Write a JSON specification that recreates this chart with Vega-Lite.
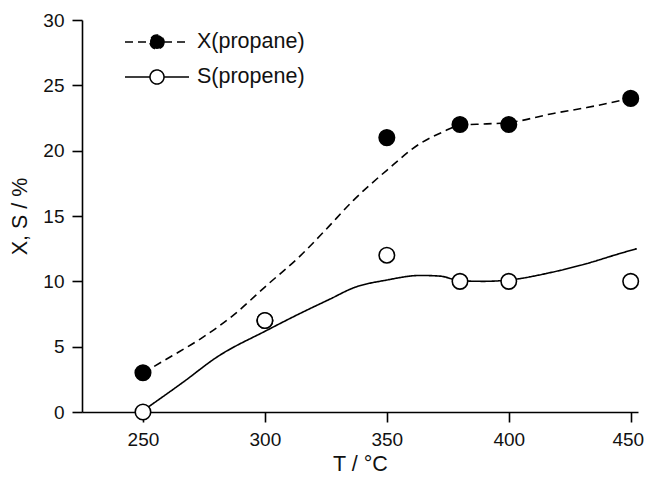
{
  "$schema": "https://vega.github.io/schema/vega-lite/v6.json",
  "width": 556,
  "height": 392,
  "autosize": {"type": "none"},
  "padding": {"left": 82, "top": 20, "right": 7, "bottom": 65},
  "background": "white",
  "config": {
    "view": {"stroke": null},
    "font": "Liberation Sans",
    "axis": {
      "grid": false,
      "domainColor": "black",
      "domainWidth": 1.6,
      "tickColor": "black",
      "tickWidth": 1.6,
      "tickSize": 10,
      "labelFont": "Liberation Sans",
      "labelFontSize": 19,
      "labelColor": "#111",
      "titleFont": "Liberation Sans",
      "titleFontSize": 21.5,
      "titleFontWeight": "normal",
      "titleColor": "#111"
    }
  },
  "datasets": {
    "measured": [
      {"T": 250, "value": 3, "series": "X(propane)"},
      {"T": 300, "value": 7, "series": "X(propane)"},
      {"T": 350, "value": 21, "series": "X(propane)"},
      {"T": 380, "value": 22, "series": "X(propane)"},
      {"T": 400, "value": 22, "series": "X(propane)"},
      {"T": 450, "value": 24, "series": "X(propane)"},
      {"T": 250, "value": 0, "series": "S(propene)"},
      {"T": 300, "value": 7, "series": "S(propene)"},
      {"T": 350, "value": 12, "series": "S(propene)"},
      {"T": 380, "value": 10, "series": "S(propene)"},
      {"T": 400, "value": 10, "series": "S(propene)"},
      {"T": 450, "value": 10, "series": "S(propene)"}
    ],
    "fitted": [
      {"T": 250, "value": 3.0, "series": "X(propane)"},
      {"T": 262, "value": 4.3, "series": "X(propane)"},
      {"T": 273.6, "value": 5.6, "series": "X(propane)"},
      {"T": 287, "value": 7.4, "series": "X(propane)"},
      {"T": 300.8, "value": 9.7, "series": "X(propane)"},
      {"T": 314.5, "value": 11.95, "series": "X(propane)"},
      {"T": 324.7, "value": 13.9, "series": "X(propane)"},
      {"T": 336.3, "value": 16.2, "series": "X(propane)"},
      {"T": 350, "value": 18.5, "series": "X(propane)"},
      {"T": 363.7, "value": 20.55, "series": "X(propane)"},
      {"T": 373.2, "value": 21.45, "series": "X(propane)"},
      {"T": 380, "value": 21.95, "series": "X(propane)"},
      {"T": 391, "value": 22.05, "series": "X(propane)"},
      {"T": 400, "value": 22.15, "series": "X(propane)"},
      {"T": 418.3, "value": 22.85, "series": "X(propane)"},
      {"T": 432, "value": 23.3, "series": "X(propane)"},
      {"T": 450, "value": 24.0, "series": "X(propane)"},
      {"T": 250, "value": 0.1, "series": "S(propene)"},
      {"T": 266.6, "value": 2.3, "series": "S(propene)"},
      {"T": 280.3, "value": 4.2, "series": "S(propene)"},
      {"T": 300.8, "value": 6.25, "series": "S(propene)"},
      {"T": 314.5, "value": 7.55, "series": "S(propene)"},
      {"T": 326.8, "value": 8.65, "series": "S(propene)"},
      {"T": 336.3, "value": 9.5, "series": "S(propene)"},
      {"T": 350, "value": 10.1, "series": "S(propene)"},
      {"T": 363.7, "value": 10.45, "series": "S(propene)"},
      {"T": 371.8, "value": 10.4, "series": "S(propene)"},
      {"T": 380, "value": 10.05, "series": "S(propene)"},
      {"T": 389.6, "value": 10.0, "series": "S(propene)"},
      {"T": 400, "value": 10.1, "series": "S(propene)"},
      {"T": 418.3, "value": 10.72, "series": "S(propene)"},
      {"T": 432, "value": 11.36, "series": "S(propene)"},
      {"T": 445.6, "value": 12.13, "series": "S(propene)"},
      {"T": 452.5, "value": 12.5, "series": "S(propene)"}
    ]
  },
  "encoding": {
    "x": {
      "field": "T",
      "type": "quantitative",
      "title": "T / °C",
      "scale": {"domain": [225, 453], "nice": false, "zero": false},
      "axis": {"values": [250, 300, 350, 400, 450], "labelPadding": 8, "titlePadding": 4, "labelFlush": 10, "labelFlushOffset": 13}
    },
    "y": {
      "field": "value",
      "type": "quantitative",
      "title": "X, S / %",
      "scale": {"domain": [0, 30], "nice": false},
      "axis": {"values": [0, 5, 10, 15, 20, 25, 30], "labelPadding": 8, "titlePadding": 11}
    }
  },
  "layer": [
    {
      "data": {"name": "fitted"},
      "mark": {"type": "line", "interpolate": "monotone", "strokeWidth": 1.6, "color": "black", "clip": true},
      "encoding": {
        "detail": {"field": "series"},
        "strokeDash": {
          "field": "series",
          "type": "nominal",
          "scale": {"domain": ["X(propane)", "S(propene)"], "range": [[8, 5], [1, 0]]},
          "legend": {
            "title": null,
            "orient": "none",
            "legendX": 64,
            "legendY": 11,
            "symbolType": "M-3.2,0H-0.7M0.7,0H3.2M0.7,0A0.7,0.7 0 1 1 -0.7,0A0.7,0.7 0 1 1 0.7,0Z",
            "symbolSize": 400,
            "labelFontSize": 21.5,
            "labelFont": "Liberation Sans",
            "labelColor": "#111",
            "labelOffset": 29,
            "rowPadding": 13,
            "encode": {
              "symbols": {
                "update": {
                  "fill": {"signal": "datum.value === 'X(propane)' ? 'black' : 'white'"},
                  "fillOpacity": {"value": 1},
                  "stroke": {"value": "black"},
                  "strokeWidth": {"value": 1.6},
                  "strokeOpacity": {"value": 1},
                  "opacity": {"value": 1}
                }
              }
            }
          }
        }
      }
    },
    {
      "data": {"name": "measured"},
      "mark": {"type": "point", "shape": "circle", "size": 240, "strokeWidth": 1.6, "stroke": "black", "opacity": 1, "filled": true},
      "encoding": {
        "fill": {
          "field": "series",
          "type": "nominal",
          "scale": {"domain": ["X(propane)", "S(propene)"], "range": ["black", "white"]},
          "legend": null
        }
      }
    }
  ]
}
